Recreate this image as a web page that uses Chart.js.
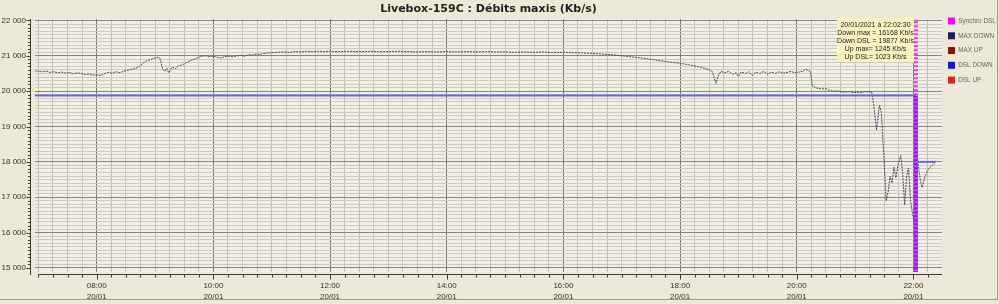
<!DOCTYPE html>
<html>
<head>
<meta charset="utf-8">
<script src="https://cdn.jsdelivr.net/npm/chart.js@4.4.1/dist/chart.umd.min.js"></script>
<style>
  html, body { margin: 0; padding: 0; background: #ece9d8; }
  #frame { position: absolute; left: 0; top: 0; width: 997px; height: 299px;
           border-right: 1px solid #9d9b90; border-bottom: 1px solid #9d9b90; }
  canvas { display: block; }
</style>
</head>
<body>
<div id="frame"><canvas id="chart" width="997" height="299"></canvas></div>
<script>
// --- data ---
const chartTitle = "Livebox-159C : Débits maxis (Kb/s)";
const legendLabels = ["Synchro DSL", "MAX DOWN", "MAX UP", "DSL DOWN", "DSL UP"];
const tickDay = "20/01";

const maxDownTimes = ["06:56","07:00","07:04","07:08","07:12","07:16","07:20","07:24","07:28","07:32","07:36","07:40","07:44","07:48","07:52","07:56",
  "08:00","08:04","08:08","08:12","08:16","08:20","08:24","08:28","08:32","08:36","08:40","08:44","08:48","08:52","08:56",
  "09:00","09:03","09:05","09:08","09:10","09:12","09:14","09:16","09:18","09:21","09:24","09:28","09:32","09:36","09:40","09:44","09:48","09:52","09:56",
  "10:00","10:04","10:08","10:12","10:16","10:20","10:24","10:28","10:32","10:36","10:40","10:44","10:48","10:52","10:56",
  "11:00","11:06","11:12","11:18","11:24","11:30","11:36","11:42","11:48","11:54",
  "12:00","12:10","12:20","12:30","12:40","12:50","13:00","13:10","13:20","13:30","13:40","13:50",
  "14:00","14:10","14:20","14:30","14:40","14:50","15:00","15:10","15:20","15:30","15:40","15:50",
  "16:00","16:10","16:20","16:30","16:40","16:50","17:00","17:10","17:20","17:30","17:40","17:50",
  "18:00","18:10","18:20","18:26","18:30","18:33","18:35","18:37","18:39","18:42","18:46","18:50","18:54","18:58",
  "19:00","19:03","19:07","19:11","19:14","19:18","19:22","19:26","19:30","19:34","19:38","19:42","19:46","19:50","19:54","19:58",
  "20:02","20:06","20:09","20:12","20:14","20:16","20:19","20:22","20:26","20:30","20:34","20:38","20:42","20:46","20:50","20:54","20:58",
  "21:02","21:06","21:10","21:14","21:17","21:19","21:22","21:25","21:27","21:30","21:32","21:34","21:36","21:38","21:40","21:42","21:44","21:47","21:49","21:51","21:53","21:55","21:57","21:59",
  "22:01","22:02","22:03","22:05","22:07","22:09","22:10","22:12","22:14","22:16","22:18","22:20","22:22"];
const maxDownValues = [20580,20560,20550,20570,20530,20550,20520,20540,20510,20530,20490,20520,20500,20470,20490,20450,
  20470,20440,20500,20530,20510,20550,20520,20570,20590,20620,20650,20700,20800,20870,20900,
  20940,20960,20930,20620,20560,20650,20520,20600,20680,20640,20720,20740,20810,20860,20900,20950,20990,21000,20980,
  20990,20960,20940,20980,20990,20970,21000,21010,20990,21030,21020,21050,21040,21070,21080,
  21090,21100,21110,21100,21120,21110,21130,21120,21130,21120,
  21130,21120,21130,21120,21130,21120,21120,21130,21120,21110,21120,21110,
  21120,21110,21120,21110,21120,21110,21110,21100,21110,21100,21110,21090,
  21100,21090,21080,21070,21050,21030,21000,20970,20940,20900,20860,20820,
  20790,20740,20690,20640,20600,20560,20380,20220,20420,20560,20520,20560,20480,20520,
  20420,20540,20500,20550,20440,20540,20500,20560,20480,20540,20500,20550,20510,20530,20560,20520,
  20540,20560,20620,20580,20560,20150,20100,20080,20060,20070,20020,20000,20010,19980,19970,19990,19960,
  19970,19960,19990,19980,19990,19650,18900,19600,19400,17950,16900,17150,17600,17400,17850,17550,17900,18180,17650,16780,17600,17830,16900,16550,
  16250,16168,18150,17900,17500,17280,17380,17600,17720,17820,17870,17920,17950];

const syncTime = "22:02:30";
const syncValues = [14000, 22500];
const dslDownTimes = ["06:56", "22:02:30", "22:02:30", "22:02:30", "22:23"];
const dslDownValues = [19877, 19877, 14000, 18000, 18000];
const maxUpTimes = ["22:02:30"];
const maxUpValues = [1245];
const dslUpTimes = ["22:02:30"];
const dslUpValues = [1023];

const tipDate = "20/01/2021 à 22:02:30";
const tipDownMax = 16168, tipDownDsl = 19877, tipUpMax = 1245, tipUpDsl = 1023;

const FONT = "'Liberation Sans', Arial, sans-serif";

function toH(s) {
  const p = s.split(":").map(Number);
  return p[0] + p[1] / 60 + (p[2] || 0) / 3600;
}
function pts(times, values) {
  return times.map((t, i) => ({ x: toH(t), y: values[i] }));
}
function pad2(n) { return (n < 10 ? "0" : "") + n; }

// plot background + axis lines with ticks sitting just outside the plot
const frameDeco = {
  id: "frameDeco",
  beforeDraw(chart) {
    const { ctx, chartArea: a } = chart;
    ctx.save();
    ctx.fillStyle = "#f2f0e6";
    ctx.fillRect(a.left, a.top, a.right - a.left, a.bottom - a.top);
    ctx.restore();
  },
  afterDraw(chart) {
    const { ctx, chartArea: a, scales } = chart;
    ctx.save();
    ctx.strokeStyle = "#3c3c3c";
    ctx.lineWidth = 1;
    // y axis
    const ax = Math.round(a.left) - 4.5;
    ctx.beginPath();
    ctx.moveTo(ax, a.top);
    ctx.lineTo(ax, a.bottom + 3);
    scales.y.ticks.forEach(t => {
      const py = Math.round(scales.y.getPixelForValue(t.value)) + 0.5;
      const len = t.value % 1000 === 0 ? 4 : 2.5;
      ctx.moveTo(ax - len, py);
      ctx.lineTo(ax, py);
    });
    // x axis
    const ay = Math.round(a.bottom) + 2.5;
    ctx.moveTo(a.left + 3, ay);
    ctx.lineTo(a.right, ay);
    scales.x.ticks.forEach(t => {
      const px = Math.round(scales.x.getPixelForValue(t.value)) + 0.5;
      const len = t.value % 2 === 0 ? 5 : 3;
      ctx.moveTo(px, ay);
      ctx.lineTo(px, ay + len);
    });
    ctx.stroke();
    ctx.restore();
  },
  afterDatasetsDraw(chart) {
    // info box next to the resync line
    const { ctx, chartArea: a, scales } = chart;
    const xs = scales.x.getPixelForValue(toH(syncTime));
    const right = Math.round(xs) - 2, left = right - 77, top = a.top - 1, h = 44;
    ctx.save();
    ctx.fillStyle = "rgba(250,242,190,0.95)";
    ctx.fillRect(left, top, right - left, h);
    ctx.fillStyle = "#222";
    ctx.font = "7px " + FONT;
    ctx.textAlign = "center";
    ctx.textBaseline = "middle";
    const lines = [tipDate,
      "Down max = " + tipDownMax + " Kb/s",
      "Down DSL = " + tipDownDsl + " Kb/s",
      "Up max= " + tipUpMax + " Kb/s",
      "Up DSL= " + tipUpDsl + " Kb/s"];
    lines.forEach((s, i) => ctx.fillText(s, (left + right) / 2, top + 7 + i * 7.9));
    ctx.restore();
  }
};

const ctx = document.getElementById("chart").getContext("2d");
new Chart(ctx, {
  type: "line",
  data: {
    datasets: [
      { label: legendLabels[0], data: pts([syncTime, syncTime], syncValues),
        borderColor: "#f030f0", backgroundColor: "#ff00ff", borderWidth: 4, borderDash: [2, 2], order: 0 },
      { label: legendLabels[1], data: pts(maxDownTimes, maxDownValues),
        borderColor: "#44445e", backgroundColor: "#12206a", borderWidth: 1, borderDash: [2, 1], order: 2 },
      { label: legendLabels[2], data: pts(maxUpTimes, maxUpValues),
        borderColor: "#8b1010", backgroundColor: "#8b1010", borderWidth: 1, order: 3 },
      { label: legendLabels[3], data: pts(dslDownTimes, dslDownValues),
        borderColor: "#6868d2", backgroundColor: "#1414e0", borderWidth: 2, order: 1,
        segment: {
          borderWidth: c => c.p0.parsed.x === c.p1.parsed.x ? 4 : 2,
          borderColor: c => c.p0.parsed.x === c.p1.parsed.x ? "#5a2ee0" : "#6868d2"
        } },
      { label: legendLabels[4], data: pts(dslUpTimes, dslUpValues),
        borderColor: "#e02020", backgroundColor: "#e02020", borderWidth: 1, order: 4 }
    ]
  },
  options: {
    responsive: false,
    animation: false,
    events: [],
    layout: { padding: 0 },
    elements: { point: { radius: 0 }, line: { tension: 0 } },
    plugins: {
      tooltip: { enabled: false },
      title: {
        display: true,
        text: chartTitle,
        fullSize: false,
        color: "#222",
        font: { family: "'DejaVu Sans', sans-serif", size: 11, weight: "bold", lineHeight: 1.2 },
        padding: { top: 2.5, bottom: 3.3 }
      },
      legend: {
        position: "right",
        align: "start",
        maxWidth: 55,
        title: { display: true, text: " ", font: { size: 1 }, padding: { top: 0, bottom: 10.3 } },
        labels: {
          boxWidth: 7, boxHeight: 7, padding: 6,
          color: "#222",
          font: { family: FONT, size: 6.4, lineHeight: 1.37 },
          // one-line arrays so the row step follows the font line height
          generateLabels: chart => chart.data.datasets.map((d, i) => ({
            text: [d.label], fillStyle: d.backgroundColor, strokeStyle: d.backgroundColor,
            lineWidth: 0, datasetIndex: i, hidden: false
          }))
        }
      }
    },
    scales: {
      x: {
        type: "linear",
        min: 6.942,
        max: 22.49,
        afterBuildTicks: axis => {
          const t = [];
          for (let v = Math.ceil(axis.min * 4) / 4; v <= axis.max; v += 0.25) t.push({ value: v });
          axis.ticks = t;
        },
        afterFit: s => { s.height = 27; },
        border: { display: false },
        grid: {
          drawTicks: false,
          color: c => (c.tick && c.tick.value % 2 === 0) ? "#77776f" : "#c3c1b6"
        },
        ticks: {
          autoSkip: false, maxRotation: 0, padding: 8, color: "#333",
          font: { family: FONT, size: 8, lineHeight: 1.375 },
          callback: v => (v % 2 === 0) ? [pad2(v) + ":00", tickDay] : ""
        }
      },
      y: {
        type: "linear",
        min: 14885,
        max: 22042,
        afterBuildTicks: axis => {
          const t = [];
          for (let v = 15000; v <= 22000; v += 100) t.push({ value: v });
          axis.ticks = t;
        },
        afterFit: s => { s.width = 35; },
        border: { display: false },
        grid: {
          drawTicks: false,
          color: c => (c.tick && c.tick.value % 1000 === 0) ? "#85857c" : "#cdcbc1"
        },
        ticks: {
          autoSkip: false, padding: 9, color: "#333",
          font: { family: FONT, size: 8 },
          callback: v => (v % 1000 === 0) ? String(v / 1000) + " 000" : ""
        }
      }
    }
  },
  plugins: [frameDeco]
});
</script>
</body>
</html>
